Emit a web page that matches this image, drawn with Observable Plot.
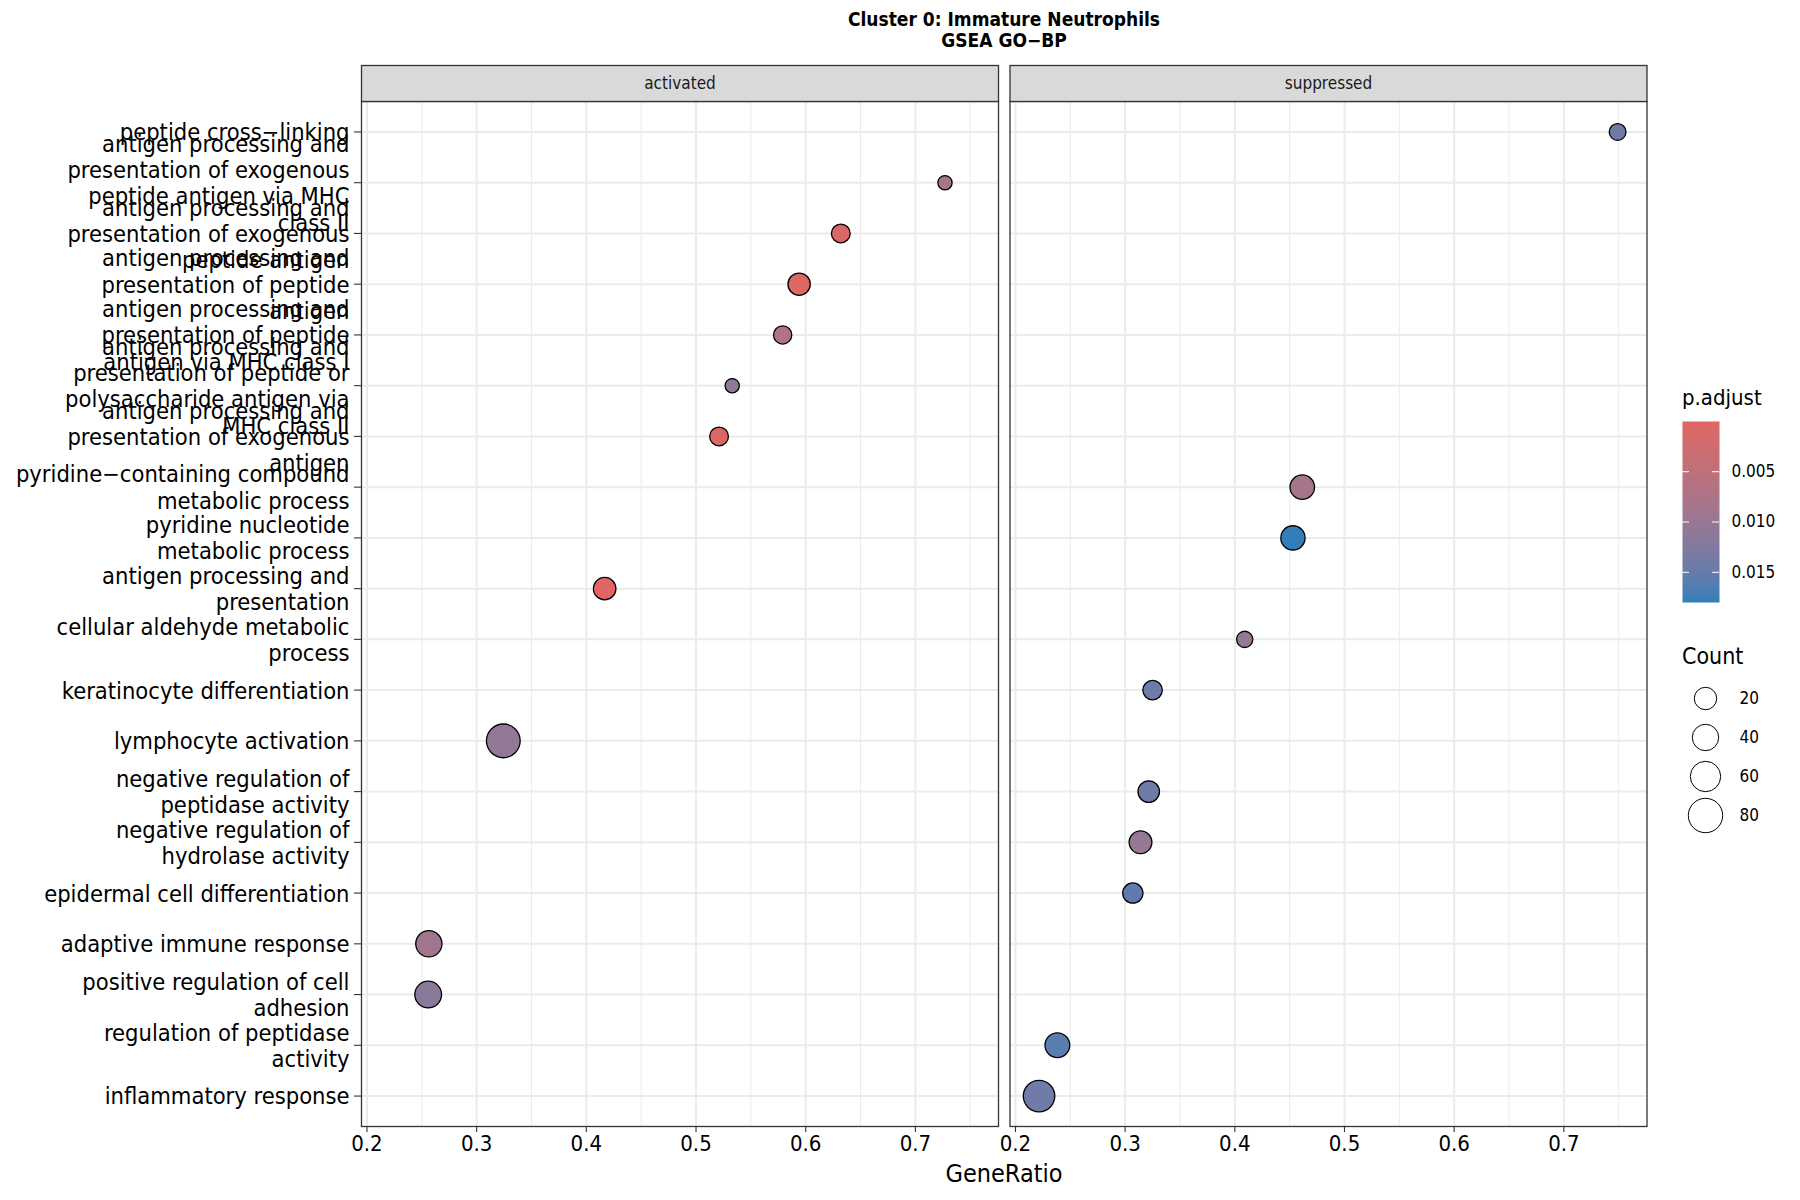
<!DOCTYPE html>
<html>
<head>
<meta charset="utf-8">
<script src="https://cdn.jsdelivr.net/npm/d3@7"></script>
<script src="https://cdn.jsdelivr.net/npm/@observablehq/plot@0.6"></script>
<style>
  body { margin: 0; background: #fff; }
  #root { position: relative; width: 1800px; height: 1200px; overflow: hidden;
          font-family: "DejaVu Sans Condensed", "DejaVu Sans", sans-serif; font-stretch: condensed; color: #000; }
  .abs { position: absolute; }
  #title { left: 361px; width: 1286px; top: 9px; text-align: center; font-weight: bold; font-size: 19px; line-height: 21px; }
  #xlabel { left: 361px; width: 1286px; top: 1159px; text-align: center; font-size: 25px; }
  #main { left: 0; top: 64px; }
  #ctitle { left: 1682px; top: 385px; font-size: 22px; }
  #clegend { left: 1660px; top: 411px; }
  #stitle { left: 1682px; top: 643px; font-size: 23px; }
  #slegend { left: 1660px; top: 670px; }
</style>
</head>
<body>
<div id="root">
  <div id="title" class="abs">Cluster 0: Immature Neutrophils<br>GSEA GO−BP</div>
  <div id="main" class="abs"></div>
  <div id="xlabel" class="abs">GeneRatio</div>
  <div id="ctitle" class="abs">p.adjust</div>
  <div id="clegend" class="abs"></div>
  <div id="stitle" class="abs">Count</div>
  <div id="slegend" class="abs"></div>
</div>
<script>
// ---- data (top to bottom) ----
const terms = [
  "peptide cross\u2212linking",
  "antigen processing and\npresentation of exogenous\npeptide antigen via MHC\nclass II",
  "antigen processing and\npresentation of exogenous\npeptide antigen",
  "antigen processing and\npresentation of peptide\nantigen",
  "antigen processing and\npresentation of peptide\nantigen via MHC class I",
  "antigen processing and\npresentation of peptide or\npolysaccharide antigen via\nMHC class II",
  "antigen processing and\npresentation of exogenous\nantigen",
  "pyridine\u2212containing compound\nmetabolic process",
  "pyridine nucleotide\nmetabolic process",
  "antigen processing and\npresentation",
  "cellular aldehyde metabolic\nprocess",
  "keratinocyte differentiation",
  "lymphocyte activation",
  "negative regulation of\npeptidase activity",
  "negative regulation of\nhydrolase activity",
  "epidermal cell differentiation",
  "adaptive immune response",
  "positive regulation of cell\nadhesion",
  "regulation of peptidase\nactivity",
  "inflammatory response"
];
const directions = ["suppressed","activated","activated","activated","activated","activated","activated",
  "suppressed","suppressed","activated","suppressed","suppressed","activated","suppressed","suppressed",
  "suppressed","activated","activated","suppressed","suppressed"];
const geneRatios = [0.749, 0.727, 0.632, 0.594, 0.579, 0.533, 0.521, 0.4615, 0.453, 0.4167,
  0.409, 0.325, 0.3243, 0.3215, 0.314, 0.307, 0.2564, 0.2558, 0.2382, 0.2215];
const counts = [21, 11, 29, 43, 27, 11, 29, 52, 51, 44, 19, 32, 89, 40, 45, 35, 59, 61, 53, 80];
const pAdjust = [0.0141, 0.0082, 0.0010, 0.0003, 0.0069, 0.0112, 0.0008, 0.0082, 0.0180, 0.00001,
  0.0105, 0.0144, 0.0108, 0.0142, 0.0105, 0.0155, 0.0091, 0.0116, 0.0159, 0.0141];
const facets = ["activated", "suppressed"];
const xTicks = [0.2, 0.3, 0.4, 0.5, 0.6, 0.7];
const xMinorTicks = [0.25, 0.35, 0.45, 0.55, 0.65, 0.75];
const pTicks = [0.005, 0.010, 0.015];
const sizeBreaks = [20, 40, 60, 80];

const data = terms.map((t, i) => ({term: t, dir: directions[i], ratio: geneRatios[i], count: counts[i], padj: pAdjust[i]}));

const pExtent = d3.extent(pAdjust);
const colorScale = {type: "linear", domain: pExtent, range: ["#e06663", "#327eba"], interpolate: d3.interpolateLab};
const fontStyle = {fontFamily: "'DejaVu Sans Condensed','DejaVu Sans',sans-serif", fontStretch: "condensed", color: "#000", background: "transparent", overflow: "visible"};

const W = 1660, H = 1097, MT = 37, MB = 35;
const panelH = H - MT - MB;

const main = Plot.plot({
  width: W, height: H,
  marginTop: MT, marginBottom: MB, marginLeft: 361, marginRight: 13.5,
  style: fontStyle,
  fx: {domain: facets, paddingInner: 0.0177, paddingOuter: 0, round: false, axis: null, label: null},
  x: {domain: [0.195, 0.7758], axis: null},
  y: {type: "point", domain: terms, padding: 0.6, round: false, axis: null},
  r: {type: "linear", domain: [10, 90], range: [7, 17]},
  color: colorScale,
  marks: [
    Plot.gridY({stroke: "#EBEBEB", strokeOpacity: 1, strokeWidth: 2}),
    Plot.gridX({ticks: xMinorTicks, stroke: "#EBEBEB", strokeOpacity: 1, strokeWidth: 1}),
    Plot.gridX({ticks: xTicks, stroke: "#EBEBEB", strokeOpacity: 1, strokeWidth: 2}),
    Plot.dot(data, {x: "ratio", y: "term", fx: "dir", r: "count", fill: "padj", stroke: "black", strokeWidth: 1.3}),
    Plot.frame({stroke: "#333333", strokeWidth: 1.3}),
    Plot.frame({fill: "#D9D9D9", stroke: "#333333", strokeWidth: 1.3, insetTop: -36, insetBottom: panelH}),
    Plot.text(facets, {fx: d => d, text: d => d, frameAnchor: "top", lineAnchor: "middle", dy: -18, fontSize: 17, fill: "#1A1A1A"}),
    Plot.axisY({fontSize: 23.5, lineHeight: 1.12, tickSize: 7, tickPadding: 5, label: null, stroke: "#333333", strokeWidth: 1.1}),
    Plot.axisX({ticks: xTicks, tickFormat: d3.format(".1f"), fontSize: 22, tickSize: 6, tickPadding: 3, label: null, stroke: "#333333", strokeWidth: 1.1})
  ]
});
document.getElementById("main").appendChild(main);

// ---- colour bar legend ----
const cleg = Plot.plot({
  width: 140, height: 201, marginTop: 10, marginBottom: 10, marginLeft: 22, marginRight: 81,
  style: fontStyle,
  x: {domain: [0, 1], axis: null},
  y: {domain: pExtent, reverse: true, axis: null},
  color: colorScale,
  marks: [
    Plot.raster({x1: 0, x2: 1, y1: pExtent[0], y2: pExtent[1], width: 2, height: 181, fill: (x, y) => y, imageRendering: "auto"}),
    Plot.ruleY(pTicks, {x1: 0, x2: 0.19, stroke: "white", strokeWidth: 1}),
    Plot.ruleY(pTicks, {x1: 0.81, x2: 1, stroke: "white", strokeWidth: 1}),
    Plot.axisY({anchor: "right", ticks: pTicks, tickFormat: d3.format(".3f"), tickSize: 0, tickPadding: 12, fontSize: 17, label: null})
  ]
});
document.getElementById("clegend").appendChild(cleg);

// ---- size legend ----
const sleg = Plot.plot({
  width: 140, height: 165, marginTop: 28, marginBottom: 20, marginLeft: 45, marginRight: 10,
  style: fontStyle,
  y: {type: "point", domain: sizeBreaks, padding: 0, axis: null},
  r: {type: "linear", domain: [20, 80], range: [11.2, 17.2]},
  marks: [
    Plot.dot(sizeBreaks, {y: d => d, r: d => d, frameAnchor: "left", fill: "white", stroke: "black", strokeWidth: 1}),
    Plot.text(sizeBreaks, {y: d => d, text: d => String(d), frameAnchor: "left", dx: 34, textAnchor: "start", fontSize: 17})
  ]
});
document.getElementById("slegend").appendChild(sleg);
</script>
</body>
</html>
